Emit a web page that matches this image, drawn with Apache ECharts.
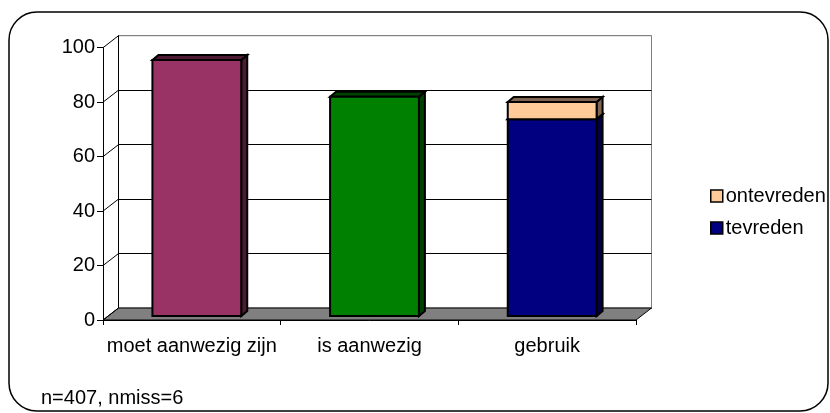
<!DOCTYPE html>
<html>
<head>
<meta charset="utf-8">
<script src="https://cdn.jsdelivr.net/npm/echarts@6/dist/echarts.min.js"></script>
<style>
html,body{margin:0;padding:0;background:#fff;}
#chart{width:830px;height:413px;}
</style>
</head>
<body>
<div id="chart"></div>
<script>
// ---- data ----
const categories = ['moet aanwezig zijn', 'is aanwezig', 'gebruik'];
const tevreden = [94, 80.5, 72.3];
const ontevreden = [null, null, 6.3];
const yTicks = [0, 20, 40, 60, 80, 100];
const footnote = 'n=407, nmiss=6';

// ---- style ----
const FONT = "'Liberation Sans', Arial, sans-serif";
const FS = 20;
const tevredenFront = ['#993366', '#008000', '#000080'];
const tevredenSide = ['#4d1a33', '#004000', '#000040'];
const ontevredenFront = '#FFCC99';
const ontevredenSide = '#806650';
const WALL_DX = 15.5, WALL_DY = -12;   // depth of the floor / walls
const FDX = 5, FDY = -4;               // bar front plane offset
const BDX = 6, BDY = -5;               // bar depth

const chart = echarts.init(document.getElementById('chart'), null, {renderer: 'canvas'});

function bandLeftRight(api) {
  const band = api.size([1, 0])[0];
  const first = api.coord([0, 0]);
  const last = api.coord([categories.length - 1, 0]);
  return [first[0] - band / 2, last[0] + band / 2, first[1]];
}

function barRenderer(frontColors, sideColors) {
  return function (params, api) {
    const cat = api.value(0), lo = api.value(1), hi = api.value(2);
    const pLo = api.coord([cat, lo]), pHi = api.coord([cat, hi]);
    const band = api.size([1, 0])[0];
    const w = band * 0.5;
    const xl = pLo[0] - w / 2 + FDX, xr = xl + w;
    const yb = pLo[1] + FDY, yt = pHi[1] + FDY;
    const front = Array.isArray(frontColors) ? frontColors[cat] : frontColors;
    const side = Array.isArray(sideColors) ? sideColors[cat] : sideColors;
    const stroke = {stroke: '#000', lineWidth: 2, lineJoin: 'miter'};
    return {
      type: 'group',
      children: [
        {type: 'polygon', shape: {points: [[xr, yt], [xr + BDX, yt + BDY], [xr + BDX, yb + BDY], [xr, yb]]},
          style: Object.assign({fill: side}, stroke)},
        {type: 'polygon', shape: {points: [[xl, yt], [xl + BDX, yt + BDY], [xr + BDX, yt + BDY], [xr, yt]]},
          style: Object.assign({fill: side}, stroke)},
        {type: 'rect', shape: {x: xl, y: yt, width: w, height: yb - yt},
          style: Object.assign({fill: front}, stroke)}
      ]
    };
  };
}

const tevredenData = categories.map((c, i) => [i, 0, tevreden[i]]);
const ontevredenData = [];
categories.forEach((c, i) => {
  if (ontevreden[i] != null) ontevredenData.push([i, tevreden[i], tevreden[i] + ontevreden[i]]);
});

const option = {
  animation: false,
  backgroundColor: '#fff',
  textStyle: {fontFamily: FONT},
  title: {
    text: footnote, left: 41, top: 388, padding: 0,
    textStyle: {fontFamily: FONT, fontSize: FS, fontWeight: 'normal', color: '#000'}
  },
  graphic: [{
    type: 'rect', silent: true, z: -10,
    shape: {x: 9, y: 12, width: 819, height: 399, r: 28},
    style: {fill: 'none', stroke: '#000', lineWidth: 1.5}
  }],
  legend: {
    orient: 'vertical', left: 710, top: 186, padding: 0,
    itemWidth: 12, itemHeight: 12, itemGap: 12, icon: 'rect',
    selectedMode: false,
    textStyle: {fontFamily: FONT, fontSize: FS, color: '#000', padding: [4, 0, 0, -2]},
    data: [
      {name: 'ontevreden', itemStyle: {color: ontevredenFront, borderColor: '#000', borderWidth: 1.5}},
      {name: 'tevreden', itemStyle: {color: '#000080', borderColor: '#000', borderWidth: 1.5}}
    ]
  },
  grid: [
    {left: 103, right: 194, top: 47.7, bottom: 93, show: false},
    {left: 103 + WALL_DX, right: 194 - WALL_DX, top: 47.7 + WALL_DY, bottom: 93 - WALL_DY,
      show: true, borderColor: '#808080', borderWidth: 1, backgroundColor: '#fff'}
  ],
  xAxis: [
    {type: 'category', gridIndex: 0, data: categories, z: 10,
      axisLine: {show: true, lineStyle: {color: '#000', width: 1}},
      axisTick: {show: true, length: 5, lineStyle: {color: '#000'}},
      axisLabel: {fontFamily: FONT, fontSize: FS, color: '#000', margin: 16, interval: 0}},
    {type: 'category', gridIndex: 1, data: categories, show: false}
  ],
  yAxis: [
    {type: 'value', gridIndex: 0, min: 0, max: 100, interval: 20, z: 10,
      axisLine: {show: true, lineStyle: {color: '#000', width: 1}},
      axisTick: {show: true, length: 6, lineStyle: {color: '#000'}},
      axisLabel: {fontFamily: FONT, fontSize: FS, color: '#000', margin: 8},
      splitLine: {show: false}},
    {type: 'value', gridIndex: 1, min: 0, max: 100, interval: 20,
      axisLine: {show: true, lineStyle: {color: '#000', width: 1}},
      axisTick: {show: false}, axisLabel: {show: false},
      splitLine: {show: true, lineStyle: {color: ['#000', '#000', '#000', '#000', '#000', '#808080'], width: 1}}}
  ],
  series: [
    { // floor
      type: 'custom', name: 'floor', xAxisIndex: 0, yAxisIndex: 0, z: 1, silent: true,
      data: [[0, 0]],
      renderItem: function (params, api) {
        const lr = bandLeftRight(api);
        const l = lr[0], r = lr[1], y = lr[2];
        return {type: 'polygon', shape: {points: [[l, y], [l + WALL_DX, y + WALL_DY], [r + WALL_DX, y + WALL_DY], [r, y]]},
          style: {fill: '#808080', stroke: '#000', lineWidth: 1}};
      }
    },
    { // left wall depth lines
      type: 'custom', name: 'wall', xAxisIndex: 0, yAxisIndex: 0, z: 1, silent: true,
      data: yTicks.map(v => [0, v]),
      renderItem: function (params, api) {
        const band = api.size([1, 0])[0];
        const c = api.coord([0, api.value(1)]);
        const l = c[0] - band / 2;
        return {type: 'line', shape: {x1: l, y1: c[1], x2: l + WALL_DX, y2: c[1] + WALL_DY},
          style: {stroke: '#000', lineWidth: 1}};
      }
    },
    {
      type: 'custom', name: 'tevreden', xAxisIndex: 0, yAxisIndex: 0, z: 3,
      itemStyle: {color: '#000080'},
      encode: {x: 0, y: 2},
      data: tevredenData,
      renderItem: barRenderer(tevredenFront, tevredenSide)
    },
    {
      type: 'custom', name: 'ontevreden', xAxisIndex: 0, yAxisIndex: 0, z: 4,
      itemStyle: {color: ontevredenFront},
      encode: {x: 0, y: 2},
      data: ontevredenData,
      renderItem: barRenderer(ontevredenFront, ontevredenSide)
    }
  ]
};
chart.setOption(option);
</script>
</body>
</html>
